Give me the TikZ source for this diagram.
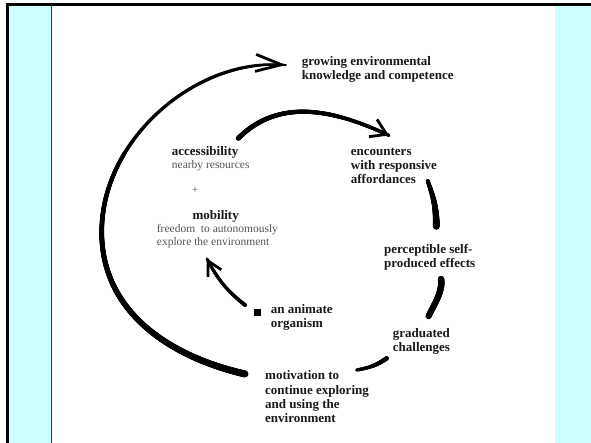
\documentclass[tikz,border=0pt]{standalone}
\usepackage{fontspec}
\setmainfont{Liberation Serif}
\usetikzlibrary{arrows.meta,decorations.markings}

\definecolor{slidecyan}{RGB}{204,255,255}
\definecolor{softgray}{RGB}{85,85,85}

\tikzset{
  stage/.style={font=\fontsize{13}{14.2}\selectfont\bfseries, text=black!90,
    align=left, anchor=west, inner sep=0pt},
  note/.style={font=\fontsize{11.5}{12.3}\selectfont, text=softgray,
    align=left, anchor=west, inner sep=0pt},
  taper/.style 2 args={postaction={decorate, decoration={markings,
    mark=between positions 0 and 1 step 0.5pt with {
      \pgfmathsetlengthmacro{\taprad}{(#1+(#2-#1)*\pgfkeysvalueof{/pgf/decoration/mark info/distance from start}/\pgfdecoratedpathlength)/2}
      \fill (0,0) circle[radius=\taprad];
    }}}},
  barb/.style 2 args={-{Straight Barb[length=#1,width=#2,line width=2.8pt]}},
}

\begin{document}
\begin{tikzpicture}[x=1pt,y=1pt]
  \useasboundingbox (0,0) rectangle (591,-443);
  % slide frame
  \fill[white] (0,0) rectangle (591,-443);
  \fill[slidecyan] (8,-4) rectangle (51.5,-443);
  \fill[slidecyan] (555,-4) rectangle (591,-443);
  \draw[line width=2.4pt] (6,-4.5) -- (591,-4.5);
  \draw[line width=3pt] (7.5,-3.3) -- (7.5,-443);
  \draw[black!80, line width=1.6pt] (51.5,-4) -- (51.5,-443);

  % labels
  \node[stage] (grow) at (301.7,-69.7) {growing environmental\\knowledge and competence};
  \node[stage] (access) at (171.7,-152.7) {accessibility};
  \node[note] (nearby) at (171.7,-166) {nearby resources};
  \node[note, anchor=center] (plus) at (195,-190.7) {+};
  \node[stage, anchor=center] (mobility) at (215.7,-216.7) {mobility};
  \node[note] (freedom) at (156.7,-236.2) {freedom\ \ to autonomously\\explore the environment};
  \node[stage] (encounter) at (350.7,-165.8) {encounters\\with responsive\\affordances};
  \node[stage] (percept) at (384,-257.3) {perceptible self-\\produced effects};
  \node[stage] (graduated) at (392.7,-341.7) {graduated\\challenges};
  \node[stage] (motive) at (265,-396.8) {motivation to\\continue exploring\\and using the\\environment};
  \node[stage] (organism) at (270.7,-317.2) {an animate\\organism};
  \node[fill=black, minimum size=6.5pt, inner sep=0pt] (dot) at (257.3,-312.7) {};

  % arc ends
  \coordinate (o-start) at (245,-374);
  \coordinate (o-left) at (101.7,-232);
  \coordinate (o-tip) at (286,-65);
  \coordinate (t-start) at (238.3,-138.3);
  \coordinate (t-tip) at (389,-135.5);
  \coordinate (ep-a) at (427.7,-181);
  \coordinate (ep-b) at (436.3,-226.7);
  \coordinate (pg-a) at (441,-279);
  \coordinate (pg-b) at (428.3,-316.7);
  \coordinate (gm-a) at (386.7,-358.3);
  \coordinate (gm-b) at (356.7,-370);
  \coordinate (org-a) at (245,-305);
  \coordinate (org-tip) at (206.7,-258.3);

  % loops
  \draw[line width=2pt, barb={26pt}{17pt}, taper={7}{2}]
    (o-start) to[out=167,in=-90] (o-left) to[out=90,in=176,looseness=0.95] (o-tip);
  \draw[line width=3.5pt, barb={15pt}{19pt}, taper={5}{3.5}]
    (t-start) to[out=45,in=155] (t-tip);
  \path[taper={4}{7}] (ep-a) to[out=-70,in=90] (ep-b);
  \path[taper={6.5}{6}] (pg-a) to[out=-80,in=65,looseness=0.8] (pg-b);
  \path[taper={4.5}{3.5}] (gm-a) to[out=-145,in=10] (gm-b);
  \draw[line width=3pt, barb={14pt}{15pt}, taper={4}{3}]
    (org-a) to[out=142,in=-62] (org-tip);
\end{tikzpicture}
\end{document}
